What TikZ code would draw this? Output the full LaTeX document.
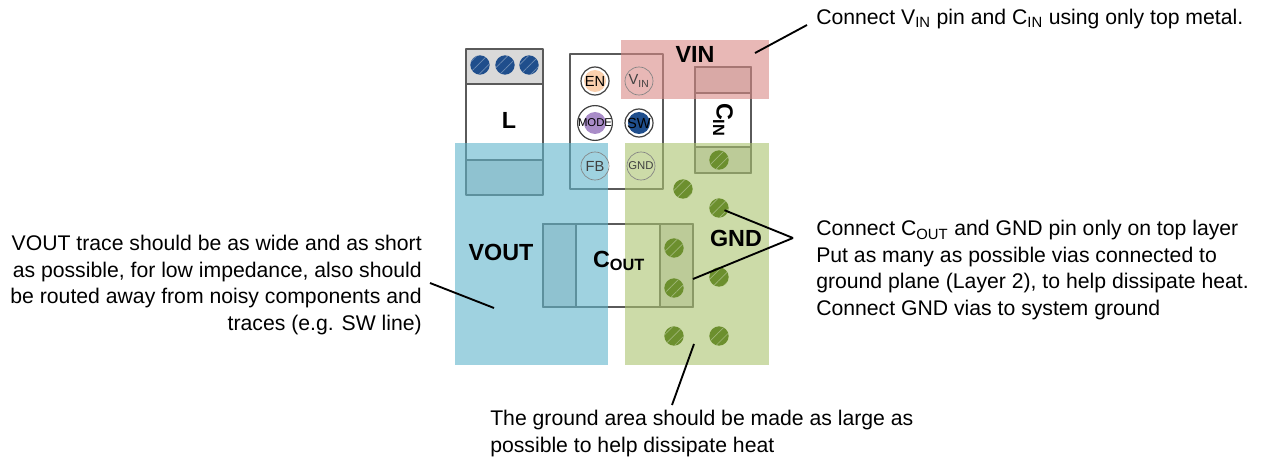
\documentclass[tikz,border=0pt]{standalone}
\usepackage{fontspec}
\setmainfont{Liberation Sans}
\usetikzlibrary{patterns.meta}
\definecolor{vinred}{HTML}{D98985}
\definecolor{voutblue}{HTML}{5FB4CB}
\definecolor{gndgreen}{HTML}{AAC36E}
\definecolor{boxgray}{HTML}{5A5A5A}
\definecolor{secgray}{HTML}{D9D9D9}
\definecolor{viagreen}{HTML}{6C8F2E}
\definecolor{viablue}{HTML}{1F4E8C}
\definecolor{padorange}{HTML}{FAD0AE}
\definecolor{padviolet}{HTML}{A98CC8}
\tikzset{
  partbox/.style={draw=boxgray,line width=1.1pt,line join=round},
  section/.style={partbox,fill=secgray},
  copper/.style={fill opacity=0.6,draw=none},
  via/.style={circle,inner sep=0pt,minimum size=14.5pt,preaction={fill=#1},
    pattern={Lines[angle=45,distance=5.5pt,line width=0.5pt]},pattern color=white!35!#1},
  via/.default=viagreen,
  pad/.style={circle,draw=boxgray!75,line width=0.5pt,inner sep=0pt,minimum size=21pt,font=\fontsize{11}{13}\selectfont,text=black!75},
  ringpad/.style={pad,draw=black!75,line width=0.9pt,text=black},
  tinypad/.style={pad,font=\fontsize{8.5}{10}\selectfont},
  bigtag/.style={font=\fontsize{17.5}{20}\selectfont\bfseries},
  note/.style={font=\fontsize{15.9}{20}\selectfont,inner sep=0pt},
  leader/.style={draw=black,line width=1.4pt}
}
\begin{document}
\begin{tikzpicture}[x=0.75pt,y=-0.75pt]
\useasboundingbox (0,0) rectangle (1261,460);

% inductor
\draw[section] (466,49) rectangle (543,84);
\draw[partbox] (466,84) rectangle (543,160);
\draw[section] (466,160) rectangle (543,195);
\foreach \x/\n in {480/a,505/b,529/c} % edit here for the inductor vias
\node[via=viablue] (sw\n) at (\x,65) {};
\node[bigtag] (ltag) at (509,120) {L};

% regulator and its pads
\draw[partbox] (570,54) rectangle (663,189);
\fill[padorange] (595,81) circle (11);
\fill[padviolet] (595,123) circle (11);
\fill[viablue] (639,123) circle (11);
\node[ringpad] (en) at (595,81) {EN};
\node[ringpad,font=\fontsize{8.5}{10}\selectfont] (mode) at (595,123) {MODE};
\node[ringpad] (sw) at (639,123) {SW};

% input and output capacitors
\draw[partbox] (695,67) rectangle (751,173);
\draw[section] (695,67) rectangle (751,93);
\draw[section] (695,147) rectangle (751,173);
\draw[partbox] (543,224) rectangle (693,307);
\draw[section] (543,224) rectangle (576,307);
\draw[section] (660,224) rectangle (693,307);

% copper areas
\fill[copper,vinred] (621,40) rectangle (769,99);
\fill[copper,voutblue] (455,143) rectangle (608,365);
\fill[copper,gndgreen] (625,143) rectangle (769,365);

\node[pad] (vinpad) at (639,81) {V\textsubscript{IN}};
\node[pad] (fb) at (595,166) {FB};
\node[tinypad] (gndpad) at (641,166) {GND};

\foreach \x/\y/\n in {719/160/a,683/189/b,719/208/c,674/248/d,674/288/e,719/277/f,674/336/g,719/336/h}
\node[via] (via\n) at (\x,\y) {};

\node[bigtag] (vintag) at (695,54) {VIN};
\node[bigtag] (vouttag) at (501,252) {VOUT};
\node[bigtag] (gndtag) at (736,238) {GND};
\node[bigtag,rotate=-90] (cintag) at (723,120) {C\textsubscript{IN}};
\node[bigtag] (couttag) at (619,261) {C\textsubscript{OUT}};

% notes
\node[note,anchor=west] (vinnote) at (816,19) {Connect V\textsubscript{IN} pin and C\textsubscript{IN} using only top metal.};
\node[note,anchor=north west,align=left] (gndnote) at (816,220) {Connect C\textsubscript{OUT} and GND pin only on top layer\\
Put as many as possible vias connected to\\
ground plane (Layer 2), to help dissipate heat.\\
Connect GND vias to system ground};
\node[note,anchor=north east,align=right] (voutnote) at (422,235) {VOUT trace should be as wide and as short\\
as possible, for low impedance, also should\\
be routed away from noisy components and\\
traces (e.g. SW line)};
\node[note,anchor=north west,align=left] (areanote) at (490,410) {The ground area should be made as large as\\
possible to help dissipate heat};

% leader lines
\coordinate (vinfrom) at (807,25);
\coordinate (vinto) at (755,53);
\coordinate (gndfrom) at (793,238);
\coordinate (coutto) at (693,279);
\coordinate (voutfrom) at (430,283);
\coordinate (voutto) at (494,308);
\coordinate (areafrom) at (672,405);
\coordinate (areato) at (694,344);
\draw[leader] (vinfrom) -- (vinto);
\draw[leader,shorten >=-3pt] (gndfrom) -- (viac);
\draw[leader] (gndfrom) -- (coutto);
\draw[leader] (voutfrom) -- (voutto);
\draw[leader] (areafrom) -- (areato);

\end{tikzpicture}
\end{document}
